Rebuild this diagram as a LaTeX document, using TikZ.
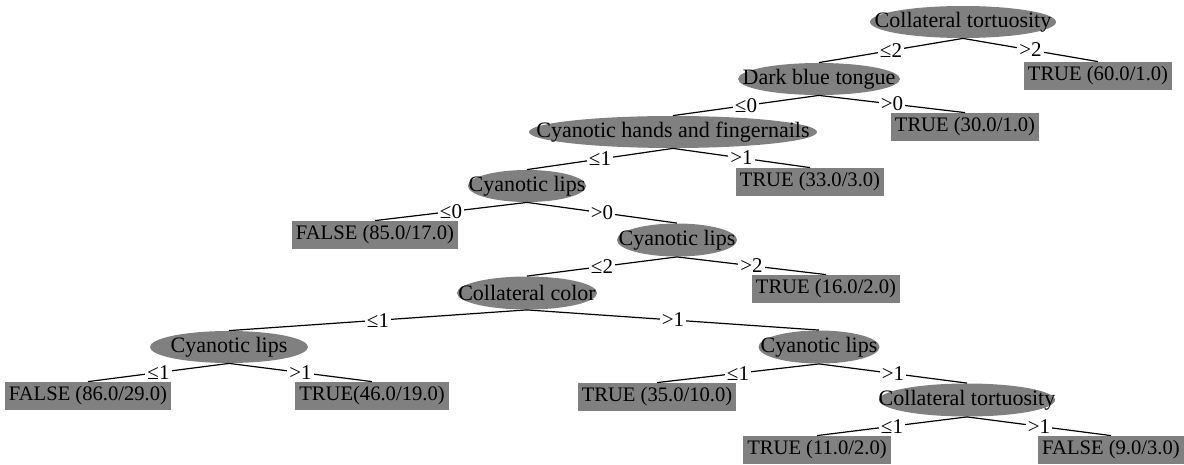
\documentclass[tikz,border=0pt]{standalone}
\usepackage{fontspec}
\setmainfont{Liberation Serif}
\usetikzlibrary{shapes.geometric}
\begin{document}
\begin{tikzpicture}[x=0.5pt,y=-0.5pt,
  every node/.style={font=\fontsize{10.5}{12.6}\selectfont},
  every label/.style={font=\fontsize{11}{13.2}\selectfont},
  dec/.style={ellipse, fill=gray, draw=none, inner sep=0pt, label={center:#1}},
  leaf/.style={rectangle, fill=gray, draw=none, inner xsep=2pt, inner ysep=0pt, minimum height=14pt, font=\fontsize{10.3}{12.4}\selectfont},
  edge/.style={line width=0.6pt, black},
  lbl/.style={fill=white, inner sep=1pt, pos=0.5}]
\useasboundingbox (0,0) rectangle (1184,465);
% decision nodes
\node[dec={Collateral tortuosity}, minimum width=93pt, minimum height=16pt] (root) at (963,22) {};
\node[dec={Dark blue tongue}, minimum width=81pt, minimum height=16pt] (dbt) at (819,79) {};
\node[dec={Cyanotic hands and fingernails}, minimum width=144pt, minimum height=16pt] (chf) at (673,132) {};
\node[dec={Cyanotic lips}, minimum width=59pt, minimum height=16pt] (cl1) at (527,186) {};
\node[dec={Cyanotic lips}, minimum width=60pt, minimum height=16.5pt] (cl2) at (677,240) {};
\node[dec={Collateral color}, minimum width=70pt, minimum height=16.5pt] (cc) at (527,293) {};
\node[dec={Cyanotic lips}, minimum width=79pt, minimum height=16pt] (cl3) at (229,347) {};
\node[dec={Cyanotic lips}, minimum width=60.5pt, minimum height=16.5pt] (cl4) at (819,347) {};
\node[dec={Collateral tortuosity}, minimum width=88pt, minimum height=16.5pt] (ct2) at (967,400) {};
% leaves
\node[leaf] (t60) at (1098,76) {TRUE (60.0/1.0)};
\node[leaf] (t30) at (965,127) {TRUE (30.0/1.0)};
\node[leaf] (t33) at (810,182) {TRUE (33.0/3.0)};
\node[leaf] (f85) at (375,235) {FALSE (85.0/17.0)};
\node[leaf] (t16) at (826,289) {TRUE (16.0/2.0)};
\node[leaf] (f86) at (88,396) {FALSE (86.0/29.0)};
\node[leaf] (t46) at (372,396) {TRUE(46.0/19.0)};
\node[leaf] (t35) at (657,397) {TRUE (35.0/10.0)};
\node[leaf] (t11) at (817,450) {TRUE (11.0/2.0)};
\node[leaf] (f9) at (1111,450) {FALSE (9.0/3.0)};
% edges
\draw[edge] (root.south) -- node[lbl]{≤2} (dbt.north);
\draw[edge] (root.south) -- node[lbl]{>2} (t60.north);
\draw[edge] (dbt.south) -- node[lbl]{≤0} (chf.north);
\draw[edge] (dbt.south) -- node[lbl]{>0} (t30.north);
\draw[edge] (chf.south) -- node[lbl]{≤1} (cl1.north);
\draw[edge] (chf.south) -- node[lbl]{>1} (t33.north);
\draw[edge] (cl1.south) -- node[lbl]{≤0} (f85.north);
\draw[edge] (cl1.south) -- node[lbl]{>0} (cl2.north);
\draw[edge] (cl2.south) -- node[lbl]{≤2} (cc.north);
\draw[edge] (cl2.south) -- node[lbl]{>2} (t16.north);
\draw[edge] (cc.south) -- node[lbl]{≤1} (cl3.north);
\draw[edge] (cc.south) -- node[lbl]{>1} (cl4.north);
\draw[edge] (cl3.south) -- node[lbl]{≤1} (f86.north);
\draw[edge] (cl3.south) -- node[lbl]{>1} (t46.north);
\draw[edge] (cl4.south) -- node[lbl]{≤1} (t35.north);
\draw[edge] (cl4.south) -- node[lbl]{>1} (ct2.north);
\draw[edge] (ct2.south) -- node[lbl]{≤1} (t11.north);
\draw[edge] (ct2.south) -- node[lbl]{>1} (f9.north);
\end{tikzpicture}
\end{document}
